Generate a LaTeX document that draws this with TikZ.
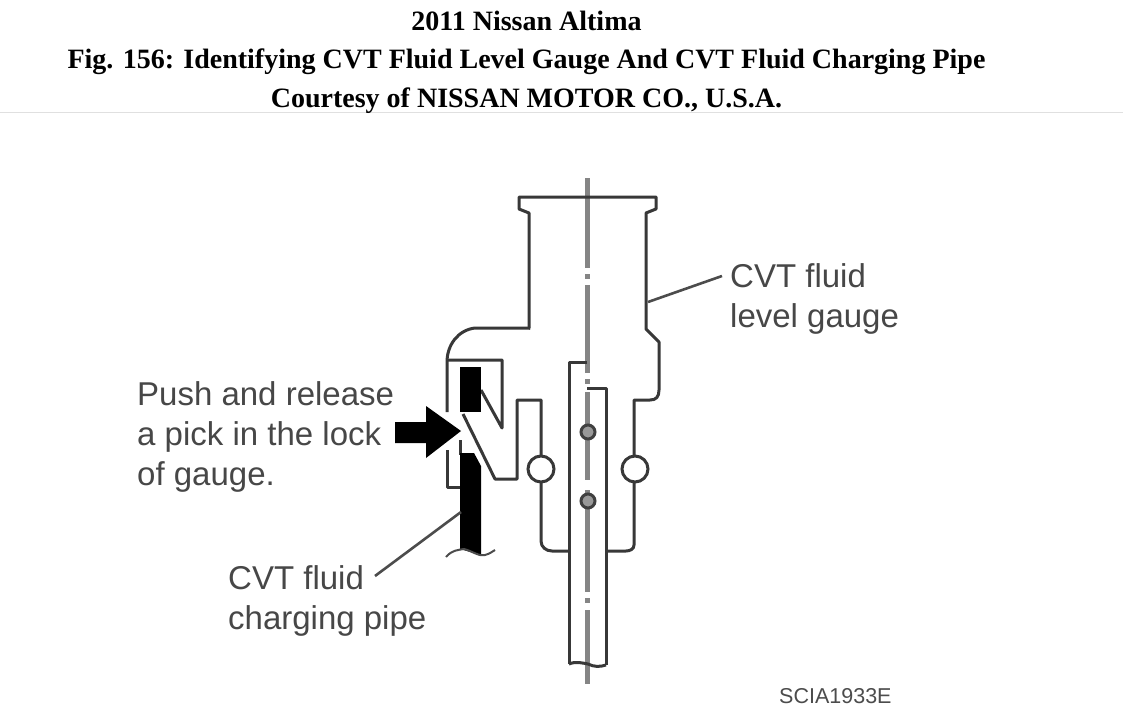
\documentclass[tikz,border=0pt]{standalone}
\usepackage{fontspec}
\setmainfont{Liberation Serif}
\newfontfamily\lblfont{Liberation Sans}
\begin{document}
\begin{tikzpicture}[x=1pt,y=-1pt,
  part/.style={line width=3pt,draw=black!78,line join=round},
  centre/.style={line width=4.6pt,draw=black!48},
  leader/.style={line width=2.6pt,draw=black!70},
  title/.style={font=\fontsize{28}{28}\selectfont\bfseries,inner sep=0pt,anchor=base,text=black},
  lbl/.style={font=\lblfont\fontsize{33}{40}\selectfont,inner sep=0pt,align=left,anchor=north west,text=black!72},
  seal/.style={circle,draw=black!78,line width=3pt,fill=white,minimum size=26pt,inner sep=0pt},
  pin/.style={circle,draw=black!75,line width=3pt,fill=black!40,minimum size=14pt,inner sep=0pt}]
\useasboundingbox (0,0) rectangle (1123,706);
\fill[white] (0,0) rectangle (1123,706);
\draw[black!12,line width=1pt] (0,113) -- (1123,113);
\node[title] (t1) at (526.5,31) {2011 Nissan Altima};
\node[title] (t2) at (526.5,69) {Fig. 156: Identifying CVT Fluid Level Gauge And CVT Fluid Charging Pipe};
\node[title] (t3) at (526.5,107) {Courtesy of NISSAN MOTOR CO., U.S.A.};
% centre line
\draw[centre] (587.5,178) -- (587.5,268) (587.5,274) -- (587.5,279) (587.5,285) -- (587.5,373)
  (587.5,379) -- (587.5,384) (587.5,392) -- (587.5,480) (587.5,490) -- (587.5,592)
  (587.5,598) -- (587.5,603) (587.5,610) -- (587.5,684);
% gauge body
\draw[part] (530,328) -- (529,328) -- (529,213) -- (519,209) -- (519,197) -- (656,197) -- (656,209) -- (646,213) -- (646,329) -- (659,342) -- (659,390)
  .. controls (659,397) and (656,400) .. (650,400) -- (634,400) -- (634,545)
  .. controls (634,549) and (630,551) .. (626,551) -- (606,551);
\draw[part] (530,328) -- (475,328) .. controls (458,330) and (447,345) .. (447,362) -- (447,412);
\draw[part] (447,450) -- (447,487) -- (461,487);
% inner lock
\draw[part] (447,360) -- (502,360) -- (502,428) -- (481,390);
\draw[part] (463,414) -- (495,479) -- (517,479) -- (517,400) -- (541,400) -- (541,541)
  .. controls (541,547) and (546,551) .. (552,551) -- (569,551);
\draw[part] (460,440) -- (460,455);
% inner tube
\draw[part] (569,664) -- (569,362) -- (587,362);
\draw[part] (587,388) -- (606,388) -- (606,665);
\draw[part] (569,664) .. controls (576,661) and (582,663) .. (588,664) .. controls (594,667) and (600,667) .. (606,665);
% black pipe
\fill[black] (460,367) rectangle (481,412);
\fill[black] (460,453) -- (474,453) -- (481,466) -- (481,555) -- (460,549) -- cycle;
\draw[line width=2pt,black!70] (446,557) .. controls (452,550) and (458,550) .. (464,549) .. controls (472,551) and (480,557) .. (485,555) .. controls (489,554) and (492,552) .. (495,550);
% seals, pins
\node[seal] (sl) at (541,469) {};
\node[seal] (sr) at (635,469) {};
\node[pin] (p1) at (588,432) {};
\node[pin] (p2) at (588,501) {};
% push arrow
\fill[black] (395,422) -- (426,422) -- (426,406) -- (461,431) -- (426,458) -- (426,443) -- (395,443) -- cycle;
% labels
\node[lbl] (a) at (730,263) {CVT fluid\\level gauge};
\node[lbl] (b) at (137,381) {Push and release\\a pick in the lock\\of gauge.};
\node[lbl] (c) at (228,565) {CVT fluid\\charging pipe};
\node[font=\lblfont\fontsize{21.5}{22}\selectfont,inner sep=0pt,anchor=base west,text=black!70] (d) at (779,703) {SCIA1933E};
\coordinate (g1) at (648,302);
\coordinate (g2) at (722,276);
\coordinate (h1) at (461,512);
\coordinate (h2) at (375,576);
\draw[leader] (g1) -- (g2);
\draw[leader] (h1) -- (h2);
\end{tikzpicture}
\end{document}
